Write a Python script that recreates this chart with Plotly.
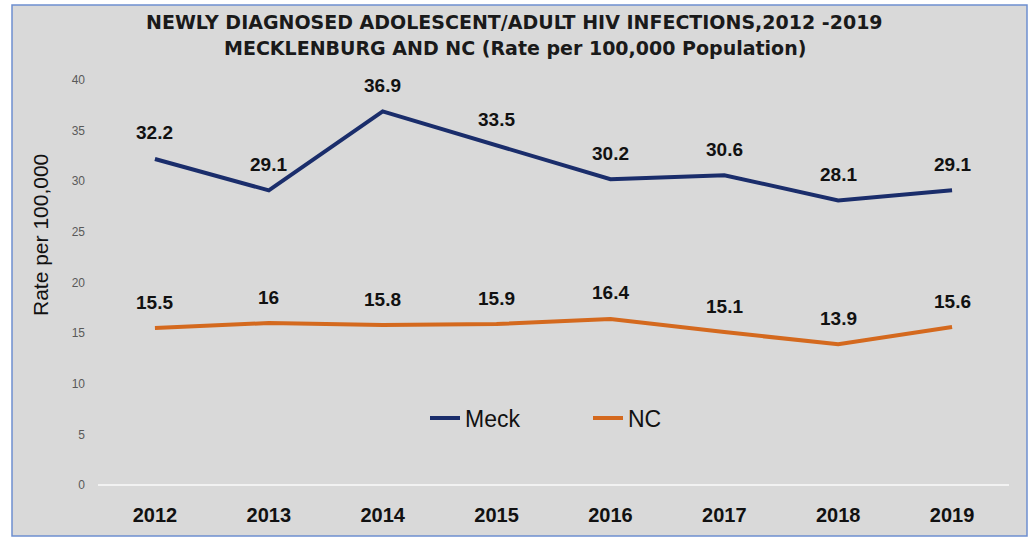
import plotly.graph_objects as go

years = [2012, 2013, 2014, 2015, 2016, 2017, 2018, 2019]
meck = [32.2, 29.1, 36.9, 33.5, 30.2, 30.6, 28.1, 29.1]
nc = [15.5, 16, 15.8, 15.9, 16.4, 15.1, 13.9, 15.6]
meck_labels = ["32.2", "29.1", "36.9", "33.5", "30.2", "30.6", "28.1", "29.1"]
nc_labels = ["15.5", "16", "15.8", "15.9", "16.4", "15.1", "13.9", "15.6"]

NAVY = "#1a2d6b"
ORANGE = "#d4691e"

fig = go.Figure()
fig.add_trace(go.Scatter(x=years, y=meck, mode="lines", name="Meck",
                         line=dict(color=NAVY, width=4)))
fig.add_trace(go.Scatter(x=years, y=nc, mode="lines", name="NC",
                         line=dict(color=ORANGE, width=4)))

ann = []
for xs, ys, ls in [(years, meck, meck_labels), (years, nc, nc_labels)]:
    for x, y, l in zip(xs, ys, ls):
        ann.append(dict(x=x, y=y, xref="x", yref="y", text=l, showarrow=False, yshift=26,
                        font=dict(family="Liberation Sans", size=19, color="#111111", weight="bold")))

ann.append(dict(xref="paper", yref="paper", x=0.4577, y=(485 - 22) / 405, yanchor="middle",
                text="<b>NEWLY DIAGNOSED ADOLESCENT/ADULT HIV INFECTIONS,2012 -2019</b>",
                showarrow=False, font=dict(family="DejaVu Sans", size=19, color="#1a1a1a")))
ann.append(dict(xref="paper", yref="paper", x=0.4577, y=(485 - 48) / 405, yanchor="middle",
                text="<b>MECKLENBURG AND NC (Rate per 100,000 Population)</b>",
                showarrow=False, font=dict(family="DejaVu Sans", size=19, color="#1a1a1a")))
ann.append(dict(xref="paper", yref="paper", x=(40 - 98) / 911, y=(485 - 235) / 405,
                xanchor="center", yanchor="middle", textangle=-90,
                text="Rate per 100,000", showarrow=False,
                font=dict(family="Liberation Sans", size=21, color="#111111")))

fig.update_layout(
    width=1030, height=538,
    margin=dict(l=98, r=21, t=80, b=53),
    paper_bgcolor="white",
    plot_bgcolor="#d9d9d9",
    showlegend=True,
    legend=dict(orientation="h", x=(425 - 98) / 911, xanchor="left", y=0.165, yanchor="middle",
                bgcolor="rgba(0,0,0,0)", font=dict(family="Liberation Sans", size=23, color="#111111"),
                itemwidth=30, entrywidth=118, tracegroupgap=0),
    annotations=ann,
    shapes=[dict(type="rect", xref="paper", yref="paper",
                 x0=(12 - 98) / 911, x1=(1027 - 98) / 911,
                 y0=(485 - 536) / 405, y1=(485 - 5) / 405,
                 fillcolor="#d9d9d9", line=dict(color="#6d8fd0", width=1.5), layer="below")],
)
fig.update_xaxes(range=[years[0] - 0.5, years[-1] + 0.5], tickvals=years, showgrid=False,
                 showline=False, ticks="", zeroline=False, ticklabelstandoff=16,
                 tickfont=dict(family="Liberation Sans", size=20, color="#111111", weight="bold"))
fig.update_yaxes(range=[0, 40], dtick=5, showgrid=False, zeroline=True, zerolinecolor="#f2f2f2",
                 zerolinewidth=2, ticks="", ticklabelstandoff=12,
                 tickfont=dict(family="Liberation Sans", size=12, color="#595959"))

fig.write_html("out.html", config={"displayModeBar": False},
               post_script="document.body.style.margin='0';")
